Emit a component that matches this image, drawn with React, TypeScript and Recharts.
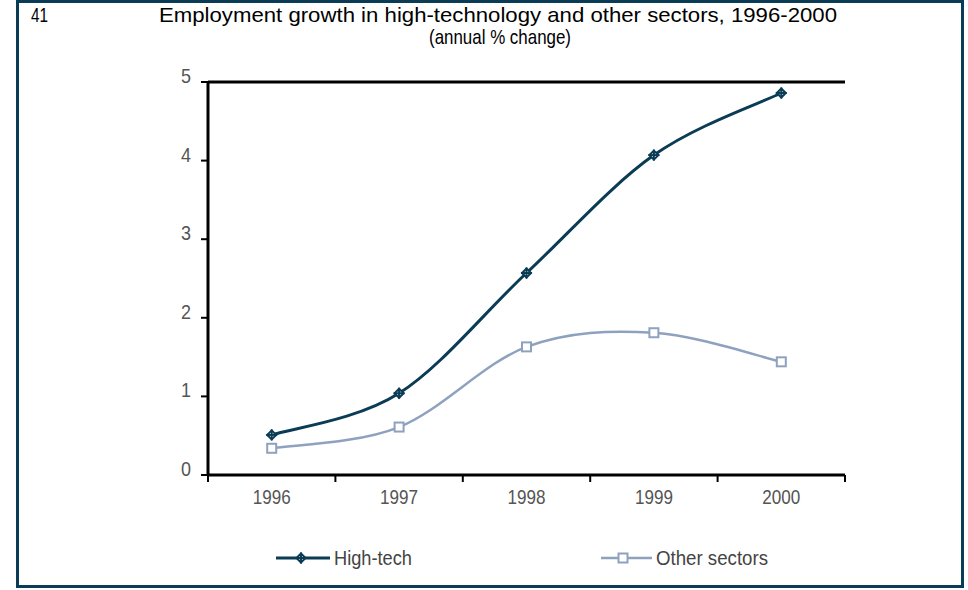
import React from 'react';
import { LineChart, Line, XAxis, YAxis, ReferenceLine, Legend } from 'recharts';

const years = ['1996', '1997', '1998', '1999', '2000'];
const highTech = [0.51, 1.04, 2.57, 4.07, 4.86];
const otherSectors = [0.34, 0.61, 1.63, 1.81, 1.44];
const yTicks = [0, 1, 2, 3, 4, 5];
const xBounds = [0, 1, 2, 3, 4, 5];

const W = 968;
const H = 590;
const margin = { top: 82, right: 123, bottom: 75, left: 0 };
const Y_AXIS_W = 208;
const X_AXIS_H = 40;
const BAND = (W - margin.left - margin.right - Y_AXIS_W) / years.length;

const FONT = "'Liberation Sans Narrow', 'Arial Narrow', 'Liberation Sans', Arial, sans-serif";
const NAVY = '#0b3c55';
const GREY_BLUE = '#8ea2bf';
const LABEL = '#555';

const data = years.map((year, i) => ({
  pos: i + 0.5,
  year,
  highTech: highTech[i],
  other: otherSectors[i],
}));

// Excel-style smoothed line (Catmull-Rom as cubic beziers)
function smoothCurve(context: any) {
  let pts: number[][] = [];
  return {
    areaStart() {},
    areaEnd() {},
    lineStart() {
      pts = [];
    },
    point(x: number, y: number) {
      pts.push([+x, +y]);
    },
    lineEnd() {
      if (!pts.length) return;
      context.moveTo(pts[0][0], pts[0][1]);
      for (let i = 0; i < pts.length - 1; i++) {
        const p0 = pts[i - 1] || pts[i];
        const p1 = pts[i];
        const p2 = pts[i + 1];
        const p3 = pts[i + 2] || p2;
        context.bezierCurveTo(
          p1[0] + (p2[0] - p0[0]) / 6,
          p1[1] + (p2[1] - p0[1]) / 6,
          p2[0] - (p3[0] - p1[0]) / 6,
          p2[1] - (p3[1] - p1[1]) / 6,
          p2[0],
          p2[1]
        );
      }
    },
  };
}

// cross-diamond marker for High-tech
function DiamondDot(props: any) {
  const { cx, cy } = props;
  if (cx == null || cy == null) return null;
  const r = 4.5;
  return (
    <g>
      <path
        d={`M${cx},${cy - r} L${cx + r},${cy} L${cx},${cy + r} L${cx - r},${cy} Z`}
        fill="#fff"
        stroke={NAVY}
        strokeWidth={2}
      />
      <line x1={cx} y1={cy - r - 1} x2={cx} y2={cy + r + 1} stroke={NAVY} strokeWidth={2} />
      <line x1={cx - r - 1} y1={cy} x2={cx + r + 1} y2={cy} stroke={NAVY} strokeWidth={2} />
    </g>
  );
}

// hollow square marker for Other sectors
function SquareDot(props: any) {
  const { cx, cy } = props;
  if (cx == null || cy == null) return null;
  return <rect x={cx - 4.5} y={cy - 4.5} width={9} height={9} fill="#fff" stroke={GREY_BLUE} strokeWidth={2} />;
}

const series = [
  { key: 'highTech', name: 'High-tech', color: NAVY, width: 3, Dot: DiamondDot, textW: 78 },
  { key: 'other', name: 'Other sectors', color: GREY_BLUE, width: 2.5, Dot: SquareDot, textW: 112 },
];

// legend layout: left edge of line sample, its length, marker offset
const legendSlots = [
  { left: 276, len: 54, mark: 25 },
  { left: 601, len: 51, mark: 22 },
];

function XTick(props: any) {
  const { x, y, payload } = props;
  const i = payload.value;
  if (i >= years.length) return null;
  return (
    <text
      x={x + BAND / 2 - 19}
      y={y + 20}
      fill={LABEL}
      fontSize={20}
      fontFamily={FONT}
      textLength={38}
      lengthAdjust="spacingAndGlyphs"
    >
      {years[i]}
    </text>
  );
}

function YTick(props: any) {
  const { x, y, payload } = props;
  return (
    <text
      x={x - 10}
      y={y + 1}
      fill={LABEL}
      fontSize={21}
      fontFamily={FONT}
      textLength={10}
      lengthAdjust="spacingAndGlyphs"
    >
      {payload.value}
    </text>
  );
}

function LegendContent() {
  return (
    <div style={{ position: 'relative', height: 0 }}>
      {series.map((s, i) => {
        const slot = legendSlots[i];
        const Dot = s.Dot;
        return (
          <svg
            key={s.key}
            width={slot.len + s.textW + 80}
            height={30}
            style={{ position: 'absolute', left: slot.left, top: 0, display: 'block', overflow: 'visible' }}
          >
            <line x1={0} y1={13} x2={slot.len} y2={13} stroke={s.color} strokeWidth={s.width} />
            <Dot cx={slot.mark} cy={13} />
            <text
              x={slot.len + 4}
              y={20}
              fill="#444"
              fontSize={20}
              fontFamily={FONT}
              textLength={s.textW}
              lengthAdjust="spacingAndGlyphs"
            >
              {s.name}
            </text>
          </svg>
        );
      })}
    </div>
  );
}

export default function App() {
  return (
    <div style={{ position: 'absolute', left: 0, top: 0, width: W, height: H, background: '#fff' }}>
      <div
        style={{
          position: 'absolute',
          left: 16,
          top: 0,
          width: 942,
          height: 582,
          border: `3px solid ${NAVY}`,
        }}
      />
      <svg width={W} height={50} style={{ position: 'absolute', left: 0, top: 0 }}>
        <text x={31} y={22} fontSize={21} fontFamily={FONT} fill="#000" textLength={17} lengthAdjust="spacingAndGlyphs">
          41
        </text>
        <text x={159} y={22} fontSize={21} fontFamily={FONT} fill="#000" textLength={678} lengthAdjust="spacingAndGlyphs">
          Employment growth in high-technology and other sectors, 1996-2000
        </text>
        <text x={429} y={44} fontSize={21} fontFamily={FONT} fill="#000" textLength={142} lengthAdjust="spacingAndGlyphs">
          (annual % change)
        </text>
      </svg>
      <div style={{ position: 'absolute', left: 0, top: 0 }}>
        <LineChart width={W} height={H} data={data} margin={margin}>
          <XAxis
            type="number"
            dataKey="pos"
            domain={[0, years.length]}
            ticks={xBounds}
            interval={0}
            height={X_AXIS_H}
            axisLine={{ stroke: '#000', strokeWidth: 3 }}
            tickLine={{ stroke: '#000', strokeWidth: 2 }}
            tickSize={7}
            tick={<XTick />}
          />
          <YAxis
            type="number"
            domain={[0, 5]}
            ticks={yTicks}
            interval={0}
            width={Y_AXIS_W}
            axisLine={{ stroke: '#000', strokeWidth: 3 }}
            tickLine={{ stroke: '#000', strokeWidth: 2 }}
            tickSize={7}
            tickMargin={10}
            tick={<YTick />}
          />
          <ReferenceLine y={5} stroke="#000" strokeWidth={3} />
          {series.map((s) => {
            const Dot = s.Dot;
            return (
              <Line
                key={s.key}
                type={smoothCurve as any}
                dataKey={s.key}
                name={s.name}
                stroke={s.color}
                strokeWidth={s.width}
                dot={<Dot />}
                activeDot={false}
                isAnimationActive={false}
              />
            );
          })}
          <Legend content={<LegendContent />} wrapperStyle={{ top: 545, left: 0, width: W }} />
        </LineChart>
      </div>
    </div>
  );
}
